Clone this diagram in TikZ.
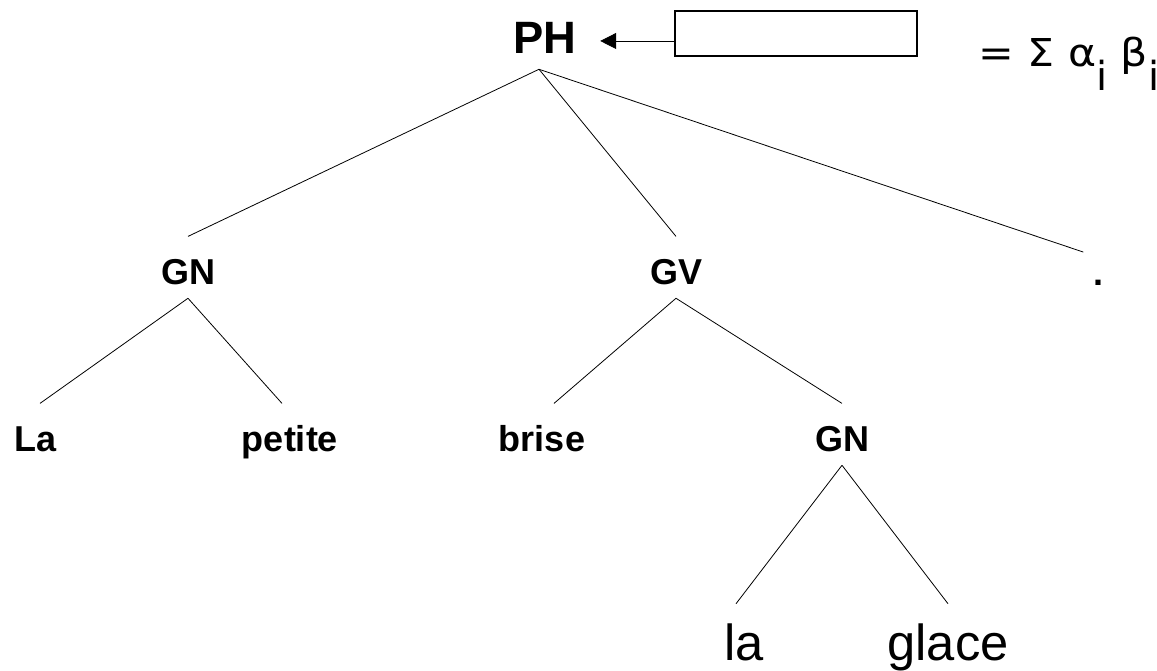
\documentclass[tikz,border=0pt]{standalone}
\usepackage{fontspec}
\setmainfont{Liberation Sans}
\newfontfamily\sumfont{DejaVu Sans}
\usepackage{tikz}
\usetikzlibrary{%
  arrows.meta,
}

% flattened letters of the sum and its lowered index
\newcommand{\squash}[1]{\scalebox{1}[0.9]{#1}}
\newcommand{\subidx}[1]{\raisebox{-18pt}{\fontsize{30pt}{36pt}\selectfont #1}}

\begin{document}
\begin{tikzpicture}[
    x = 0.75pt, y = -0.75pt,
    cat/.style = {
      font = \fontsize{27pt}{32pt}\selectfont\bfseries,
      anchor = base, inner xsep = 0pt, inner ysep = 10.5pt,
      text height = 25pt, text depth = 0pt,
    },
    word/.style = {
      font = \fontsize{38pt}{45pt}\selectfont,
      anchor = base, inner xsep = 0pt, inner ysep = 14pt,
      text height = 28pt, text depth = 0pt,
    },
    branch/.style = {line width = 0.6pt},
  ]
  \useasboundingbox (0,0) rectangle (1157,671);

  % root, weight box and sum
  \node[
    font = \fontsize{34pt}{40pt}\selectfont\bfseries,
    anchor = base, inner xsep = 17.6pt, inner ysep = 12pt,
    text depth = 0pt,
  ] (ph) at (545,53) {PH};

  \node[
    draw, line width = 0.9pt, inner sep = 0pt,
    minimum width = 181.5pt, minimum height = 33.75pt,
  ] (box) at (796,33.5) {};

  \node[
    anchor = base west, inner sep = 0pt,
    font = \sumfont\fontsize{32pt}{38pt}\selectfont,
  ] (sum) at (978,66) {\squash{= Σ α}\subidx{i} \squash{β}\subidx{i}};

  \coordinate (tail) at ([yshift=-5.6pt]box.west);
  \draw[line width = 0.6pt, -{Triangle[length=12pt, width=12pt]}]
    (tail) -- (tail -| ph.east);

  % second level
  \node[cat] (gn1) at (188,284) {GN};
  \node[cat] (gv)  at (676,284) {GV};
  \node[cat, text height = 14pt] (pt) at (1098,285) {.};

  % third level
  \node[cat] (la1)    at (36,451)  {La};
  \node[cat] (petite) at (290,451) {petite};
  \node[cat] (brise)  at (542,451) {brise};
  \node[cat] (gn2)    at (842,451) {GN};

  % leaves of the object
  \node[word] (la2)   at (744,660) {la};
  \node[word] (glace) at (948,660) {glace};

  % branches
  \coordinate (top) at ([xshift=-4.5pt]ph.south);
  \draw[branch] (top) -- (gn1.north);
  \draw[branch] (top) -- (gv.north);
  \draw[branch] (top) -- ([xshift=-11pt]pt.north);

  \draw[branch] (gn1.south) -- ([xshift=3pt]la1.north);
  \draw[branch] (gn1.south) -- ([xshift=-6pt]petite.north);

  \draw[branch] (gv.south) -- ([xshift=9pt]brise.north);
  \draw[branch] (gv.south) -- (gn2.north);

  \draw[branch] (gn2.south) -- ([xshift=-6pt]la2.north);
  \draw[branch] (gn2.south) -- (glace.north);
\end{tikzpicture}
\end{document}
